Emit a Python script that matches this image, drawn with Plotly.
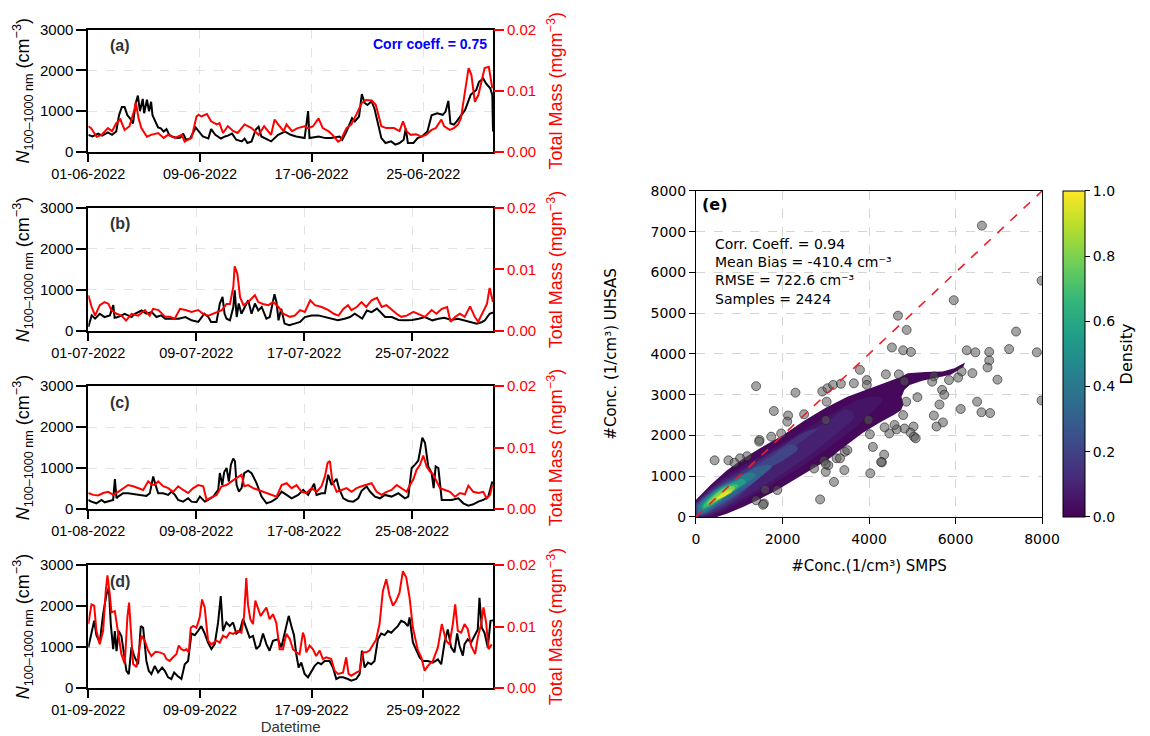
import pandas as pd
import plotly.graph_objects as go
from plotly.colors import sample_colorscale

# ---------------- time series: day offset from month start, value ----------------
# N(100-1000 nm) in cm^-3, total mass in mg m^-3
jun_n_day = [0.0, 0.3, 0.7, 1.0, 1.4, 1.7, 2.0, 2.2, 2.4, 2.6, 2.8, 3.0, 3.2, 3.4, 3.55, 3.7, 3.9, 4.0, 4.2, 4.35,
             4.5, 4.6, 4.8, 5.0, 5.2, 5.4, 5.6, 5.8, 6.0, 6.4, 6.6, 6.8, 7.0, 7.3, 7.7, 7.9, 8.2, 8.6, 8.8, 9.1,
             9.5, 9.8, 10.0, 10.3, 10.6, 11.0, 11.2, 11.4, 11.7, 12.0, 12.2, 12.4, 12.8, 13.1, 13.6, 14.1, 14.5, 14.9, 15.5, 15.75,
             15.85, 16.5, 17.0, 17.4, 18.0, 18.2, 18.5, 18.9, 19.1, 19.4, 19.6, 19.8, 20.0, 20.3, 20.5, 20.8, 21.0, 21.3, 21.7, 22.0,
             22.3, 22.6, 22.75, 22.9, 23.3, 23.6, 23.9, 24.3, 24.6, 25.0, 25.4, 25.6, 25.8, 25.95, 26.2, 26.4, 26.8, 27.0, 27.4, 27.8,
             28.0, 28.3, 28.5, 28.8, 28.95, 29.0]
jun_n = [420, 380, 450, 400, 480, 420, 500, 900, 1100, 1100, 900, 820, 700, 1200, 1380, 1000, 1300, 950, 1280, 1000,
         1230, 900, 750, 600, 580, 500, 560, 420, 380, 340, 350, 450, 300, 330, 600, 520, 380, 330, 560, 420,
         330, 380, 400, 450, 300, 260, 330, 220, 260, 550, 620, 380, 300, 260, 420, 500, 420, 380, 340, 1000,
         340, 380, 340, 340, 380, 300, 500, 830, 750, 870, 1420, 1200, 1150, 1240, 1070, 670, 340, 220, 260, 180,
         220, 300, 580, 220, 220, 340, 380, 500, 900, 950, 910, 990, 1250, 700, 670, 750, 950, 1030, 1400, 1520,
         1720, 1800, 1680, 1560, 1400, 500]
jun_m_day = [0.0, 0.2, 0.6, 0.95, 1.4, 1.7, 2.0, 2.3, 2.6, 2.95, 3.3, 3.4, 3.6, 3.8, 4.2, 4.5, 5.0, 5.4, 5.7, 6.2,
             6.7, 6.9, 7.4, 7.75, 7.9, 8.1, 8.5, 8.8, 9.2, 9.4, 9.65, 10.0, 10.4, 10.7, 11.2, 11.7, 12.2, 12.6, 13.1, 13.35,
             13.6, 14.0, 14.2, 14.6, 15.0, 15.5, 15.75, 16.1, 16.5, 16.8, 17.2, 17.5, 17.9, 18.1, 18.5, 18.85, 19.2, 19.6, 19.9, 20.3,
             20.6, 21.0, 21.35, 21.9, 22.3, 22.55, 22.8, 23.1, 23.5, 23.85, 24.2, 24.6, 24.9, 25.3, 25.5, 25.9, 26.2, 26.5, 26.7, 26.95,
             27.25, 27.45, 27.7, 27.95, 28.2, 28.4, 28.7, 28.95]
jun_m = [.0042, .0039, .0025, .0028, .0039, .0034, .0047, .0053, .0036, .0042, .0069, .0081, .0055, .0039, .0025, .0028, .0031, .0023, .0028, .0023,
         .0028, .0017, .0023, .0058, .0061, .0058, .0062, .0050, .0045, .0047, .0031, .0042, .0034, .0031, .0045, .0039, .0028, .0042, .0028, .0053,
         .0045, .0034, .0045, .0034, .0039, .0042, .0039, .0042, .0055, .0039, .0034, .0028, .0017, .0020, .0039, .0045, .0061, .0080, .0085, .0084,
         .0077, .0042, .0039, .0039, .0034, .0050, .0034, .0028, .0029, .0025, .0028, .0036, .0039, .0053, .0042, .0036, .0039, .0045, .0055, .0093,
         .0137, .0126, .0082, .0093, .0115, .0137, .0139, .0104]

jul_n_day = [0.0, 0.25, 0.5, 0.85, 1.2, 1.6, 1.85, 1.95, 2.2, 2.7, 3.2, 3.45, 3.95, 4.3, 4.7, 5.05, 5.4, 5.7, 6.2, 6.7,
             7.2, 7.65, 8.15, 8.6, 8.9, 9.1, 9.5, 9.75, 9.95, 10.1, 10.25, 10.5, 10.75, 10.85, 11.0, 11.15, 11.35, 11.6, 11.85, 12.1,
             12.35, 12.6, 12.85, 13.2, 13.45, 13.8, 13.95, 14.1, 14.3, 14.55, 14.9, 15.3, 15.7, 16.05, 16.55, 17.05, 17.55, 18.05, 18.5, 19.0,
             19.4, 19.75, 20.3, 20.65, 21.0, 21.4, 21.75, 22.0, 22.5, 23.0, 23.5, 24.0, 24.5, 24.95, 25.5, 25.95, 26.4, 26.9, 27.4, 27.9,
             28.3, 28.8, 29.2, 29.4, 29.75, 30.0]
jul_n = [100, 380, 300, 420, 340, 380, 630, 320, 340, 420, 340, 420, 500, 420, 460, 340, 380, 300, 300, 300,
         340, 260, 220, 420, 340, 220, 220, 670, 830, 420, 300, 260, 585, 990, 340, 670, 420, 585, 750, 420,
         670, 500, 585, 300, 340, 895, 700, 260, 545, 180, 140, 180, 220, 340, 380, 380, 340, 300, 260, 300,
         340, 420, 300, 500, 460, 545, 420, 340, 340, 270, 260, 270, 300, 340, 260, 300, 320, 270, 300, 260,
         220, 180, 220, 260, 420, 450]
jul_m_day = [0.0, 0.25, 0.5, 0.85, 1.2, 1.5, 1.7, 2.1, 2.45, 2.8, 3.2, 3.7, 4.2, 4.55, 4.8, 5.2, 5.7, 6.05, 6.4, 6.8,
             7.2, 7.65, 8.15, 8.5, 8.9, 9.25, 9.5, 9.9, 10.25, 10.5, 10.75, 10.85, 11.05, 11.25, 11.5, 11.85, 12.35, 12.6, 12.95, 13.35,
             13.7, 14.1, 14.45, 14.95, 15.3, 15.7, 16.05, 16.45, 16.8, 17.3, 17.8, 18.2, 18.55, 18.9, 19.25, 19.5, 19.9, 20.25, 20.6, 21.0,
             21.4, 21.75, 22.1, 22.5, 22.85, 23.2, 23.6, 24.1, 24.45, 24.95, 25.45, 25.8, 26.2, 26.6, 26.85, 27.2, 27.55, 27.9, 28.3, 28.65,
             28.9, 29.3, 29.55, 29.75, 30.0]
jul_m = [.0058, .0039, .0025, .0042, .0047, .0044, .0034, .0028, .0025, .0017, .0028, .0025, .0034, .0025, .0036, .0034, .0023, .0023, .0020, .0036,
         .0034, .0031, .0034, .0028, .0025, .0028, .0031, .0034, .0044, .0044, .0072, .0105, .0093, .0055, .0042, .0047, .0058, .0047, .0044, .0042,
         .0047, .0039, .0028, .0023, .0025, .0034, .0031, .0050, .0042, .0039, .0034, .0028, .0025, .0036, .0042, .0034, .0039, .0047, .0039, .0050,
         .0054, .0039, .0042, .0034, .0028, .0023, .0025, .0031, .0028, .0023, .0034, .0028, .0036, .0039, .0015, .0023, .0028, .0023, .0040, .0023,
         .0015, .0034, .0044, .0070, .0047]

aug_n_day = [0.0, 0.23, 0.6, 0.98, 1.22, 1.6, 1.84, 1.97, 2.09, 2.21, 2.58, 2.95, 3.45, 3.94, 4.31, 4.56, 4.81, 4.98, 5.18, 5.55,
             5.92, 6.17, 6.42, 6.66, 7.03, 7.4, 7.65, 8.02, 8.27, 8.64, 8.89, 9.26, 9.63, 9.75, 9.93, 10.07, 10.25, 10.42, 10.57, 10.74,
             10.87, 10.99, 11.16, 11.36, 11.56, 11.85, 12.1, 12.47, 12.84, 13.21, 13.58, 13.96, 14.33, 14.7, 15.07, 15.56, 15.93, 16.3, 16.74, 16.92,
             17.29, 17.54, 17.78, 18.03, 18.4, 18.58, 18.9, 19.27, 19.64, 20.01, 20.26, 20.63, 20.88, 21.25, 21.62, 21.99, 22.48, 22.98, 23.47, 23.72,
             23.97, 24.22, 24.46, 24.59, 24.76, 24.96, 25.2, 25.45, 25.6, 25.75, 25.95, 26.2, 26.56, 26.93, 27.43, 27.8, 28.17, 28.54, 28.91, 29.28,
             29.65, 29.95]
aug_n = [221, 180, 139, 221, 164, 197, 221, 730, 262, 303, 385, 385, 361, 344, 320, 385, 795, 590, 385, 385,
         344, 426, 344, 221, 180, 262, 180, 164, 303, 180, 221, 303, 467, 877, 590, 894, 1000, 672, 1082, 1230,
         1164, 590, 426, 508, 877, 935, 877, 631, 303, 139, 180, 262, 426, 344, 262, 344, 467, 344, 615, 344,
         385, 385, 836, 590, 738, 508, 262, 197, 180, 262, 443, 549, 426, 303, 262, 344, 303, 385, 262, 303,
         1000, 1082, 1181, 1410, 1738, 1615, 1041, 877, 508, 1041, 1000, 221, 221, 221, 262, 139, 82, 115, 180, 221,
         303, 672]
aug_m_day = [0.0, 0.36, 0.73, 1.1, 1.47, 1.84, 2.21, 2.58, 2.95, 3.33, 3.7, 4.07, 4.44, 4.68, 4.93, 5.18, 5.55, 5.92, 6.29, 6.66,
             7.03, 7.4, 7.78, 8.15, 8.52, 8.76, 9.13, 9.51, 9.88, 10.25, 10.62, 10.99, 11.36, 11.56, 11.85, 12.22, 12.6, 13.09, 13.58, 13.96,
             14.33, 14.7, 15.07, 15.44, 15.81, 16.18, 16.55, 16.92, 17.29, 17.54, 17.74, 17.91, 18.09, 18.41, 18.78, 19.15, 19.52, 19.89, 20.26, 20.63,
             21.0, 21.37, 21.74, 22.11, 22.48, 22.86, 23.23, 23.6, 23.84, 24.09, 24.34, 24.59, 24.83, 25.08, 25.33, 25.57, 25.82, 26.07, 26.44, 26.81,
             27.18, 27.55, 27.92, 28.17, 28.54, 28.91, 29.28, 29.53, 29.78, 29.95]
aug_m = [.0026, .0023, .0022, .0026, .0028, .0023, .0028, .0034, .0039, .0037, .0034, .0031, .0045, .0040, .0039, .0045, .0037, .0034, .0028, .0037,
         .0031, .0026, .0034, .0039, .0037, .0015, .0019, .0023, .0037, .0039, .0045, .0050, .0056, .0037, .0039, .0034, .0031, .0028, .0023, .0020,
         .0039, .0042, .0034, .0039, .0028, .0026, .0034, .0028, .0037, .0053, .0075, .0078, .0045, .0028, .0031, .0034, .0028, .0034, .0037, .0039,
         .0042, .0028, .0023, .0028, .0031, .0039, .0034, .0028, .0039, .0048, .0064, .0072, .0087, .0069, .0061, .0056, .0045, .0034, .0031, .0028,
         .0020, .0026, .0024, .0038, .0028, .0026, .0028, .0017, .0023, .0039]

sep_n_day = [0.0, 0.23, 0.42, 0.58, 0.82, 1.06, 1.3, 1.47, 1.61, 1.78, 1.9, 2.02, 2.18, 2.37, 2.57, 2.73, 2.9, 3.09, 3.33, 3.57,
             3.76, 3.93, 4.16, 4.33, 4.52, 4.76, 5.0, 5.29, 5.48, 5.72, 5.95, 6.15, 6.38, 6.67, 6.91, 7.15, 7.39, 7.63, 7.86, 8.1,
             8.34, 8.58, 8.82, 9.06, 9.3, 9.49, 9.65, 9.89, 10.13, 10.37, 10.61, 10.85, 11.09, 11.32, 11.56, 11.8, 12.04, 12.28, 12.52, 12.76,
             12.99, 13.23, 13.59, 13.83, 14.07, 14.36, 14.55, 14.74, 14.9, 15.07, 15.26, 15.5, 15.74, 15.98, 16.22, 16.46, 16.69, 16.93, 17.29, 17.53,
             17.77, 18.0, 18.25, 18.6, 18.84, 19.2, 19.44, 19.61, 19.8, 20.04, 20.27, 20.51, 20.75, 20.99, 21.23, 21.47, 21.71, 21.94, 22.18, 22.42,
             22.66, 22.9, 23.02, 23.26, 23.5, 23.74, 23.98, 24.33, 24.69, 25.05, 25.29, 25.53, 25.76, 26.0, 26.24, 26.43, 26.6, 26.84, 26.96, 27.19,
             27.43, 27.67, 27.91, 28.03, 28.2, 28.39, 28.63, 28.82, 29.0]
sep_n = [990, 1390, 1640, 1290, 1110, 1800, 2280, 2450, 1560, 950, 1390, 900, 1390, 1270, 830, 420, 340, 990, 745, 580,
         1510, 1470, 660, 420, 340, 540, 380, 500, 420, 260, 220, 380, 300, 220, 580, 660, 1330, 1290, 1390, 1510,
         1330, 1110, 950, 1070, 1600, 2240, 1390, 1600, 1510, 1600, 1330, 1390, 1680, 1430, 1230, 1270, 950, 1030, 1330, 1070,
         910, 1150, 1190, 990, 1330, 1760, 1510, 1290, 830, 500, 620, 340, 260, 420, 540, 620, 580, 660, 660, 500,
         220, 260, 260, 220, 180, 220, 340, 910, 500, 620, 580, 660, 1190, 1330, 1290, 1390, 1350, 1430, 1510, 1640,
         1600, 1510, 1720, 1110, 910, 745, 660, 660, 620, 700, 580, 1110, 1430, 990, 870, 1330, 1030, 790, 1070, 1190,
         1110, 1270, 1430, 2200, 1470, 1350, 990, 1640, 1650]
sep_m_day = [0.0, 0.23, 0.42, 0.58, 0.82, 1.06, 1.25, 1.37, 1.54, 1.66, 1.9, 2.14, 2.37, 2.61, 2.8, 2.92, 3.04, 3.21, 3.45, 3.62,
             3.81, 4.05, 4.28, 4.52, 4.81, 5.12, 5.43, 5.6, 5.83, 6.07, 6.31, 6.48, 6.67, 6.86, 7.03, 7.2, 7.34, 7.51, 7.75, 7.98,
             8.15, 8.34, 8.58, 8.82, 9.18, 9.42, 9.65, 9.89, 10.13, 10.37, 10.73, 10.97, 11.16, 11.32, 11.44, 11.61, 11.8, 11.97, 12.16, 12.35,
             12.52, 12.76, 12.99, 13.23, 13.47, 13.71, 13.95, 14.19, 14.43, 14.67, 14.9, 15.14, 15.38, 15.5, 15.62, 15.86, 16.1, 16.33, 16.58, 16.81,
             17.05, 17.41, 17.65, 17.89, 18.25, 18.48, 18.65, 18.84, 19.2, 19.44, 19.68, 19.92, 20.15, 20.39, 20.63, 20.87, 21.11, 21.35, 21.59, 21.83,
             22.06, 22.3, 22.54, 22.78, 23.02, 23.26, 23.62, 23.86, 24.1, 24.33, 24.69, 25.05, 25.33, 25.64, 25.88, 26.12, 26.29, 26.48, 26.72, 26.96,
             27.19, 27.43, 27.72, 27.91, 28.15, 28.32, 28.51, 28.68, 28.91]
sep_m = [.0104, .0136, .0134, .0093, .0071, .0093, .0158, .0183, .0152, .0123, .0125, .0085, .0055, .0039, .0115, .0139, .0093, .0039, .0034, .0061,
         .0085, .0077, .0061, .0052, .0059, .0058, .0055, .0047, .0044, .0050, .0055, .0069, .0063, .0061, .0063, .0058, .0098, .0101, .0098, .0115,
         .0144, .0131, .0077, .0071, .0077, .0074, .0085, .0082, .0090, .0088, .0093, .0090, .0117, .0179, .0136, .0112, .0104, .0142, .0131, .0117,
         .0123, .0131, .0112, .0120, .0106, .0063, .0063, .0088, .0080, .0063, .0058, .0055, .0090, .0082, .0058, .0069, .0063, .0052, .0061, .0047,
         .0050, .0047, .0028, .0023, .0025, .0050, .0023, .0020, .0025, .0028, .0058, .0058, .0061, .0071, .0079, .0104, .0158, .0177, .0150, .0134,
         .0142, .0155, .0190, .0180, .0147, .0098, .0061, .0050, .0028, .0036, .0044, .0066, .0104, .0077, .0071, .0104, .0136, .0093, .0090, .0104,
         .0096, .0069, .0055, .0082, .0104, .0131, .0106, .0063, .0071]

month_starts = ["2022-06-01", "2022-07-01", "2022-08-01", "2022-09-01"]
month_ends = ["2022-06-30", "2022-07-31", "2022-08-31", "2022-09-30"]
panel_tags = ["(a)", "(b)", "(c)", "(d)"]
corr_text = "Corr coeff. = 0.75"

# ---------------- SMPS vs UHSAS comparison ----------------
stats_lines = ["Corr. Coeff. = 0.94", "Mean Bias = -410.4 cm⁻³", "RMSE = 722.6 cm⁻³", "Samples = 2424"]

# low-density samples (grey markers)
sparse_smps = [6610, 7990, 5960, 4670, 4870, 7400, 4530, 4790, 4970, 6260, 6460, 7240, 7880, 6780, 6780, 6740, 6970, 6390,
               7990, 6500, 6600, 6800, 6120, 5850, 6140, 6060, 5500, 5460, 5690, 5740, 5120, 5630, 5500, 5710, 5560, 4860,
               4790, 4820, 5030, 4960, 5040, 5080, 4640, 4470, 4360, 4350, 4300, 4090, 4030, 4020, 3430, 3250, 3190, 3000,
               3060, 2870, 3000, 3020, 2920, 3040, 3170, 3350, 3650, 3790, 3950, 3950, 4390, 4690, 2300, 1390, 1800, 2130,
               2110, 2500, 1740, 1470, 1460, 1970, 1180, 1020, 750, 890, 430, 1880, 1570, 1390, 1550, 1600, 2960, 3000,
               3440, 3990, 3330, 3500, 4280, 2730, 4590, 4820]
sparse_uhsas = [7150, 5800, 5320, 4940, 4590, 4550, 4160, 4090, 4050, 4090, 4040, 4120, 4040, 4050, 3840, 3670, 3370, 3530,
                2860, 2830, 2570, 2550, 2650, 3360, 3570, 3420, 3450, 3320, 3120, 3000, 2940, 2760, 2490, 2320, 2220, 2830,
                2500, 2170, 2220, 2070, 1970, 1930, 2150, 2050, 2200, 1530, 1340, 1720, 1070, 2030, 1150, 1440, 860, 1110,
                1270, 430, 2380, 2830, 3080, 3160, 3240, 3270, 3280, 3610, 3360, 3240, 3500, 3500, 3050, 3210, 2600, 2490,
                2340, 2520, 1970, 1890, 1850, 2050, 1490, 1440, 1390, 1330, 1390, 660, 330, 410, 300, 670, 1380, 1300,
                1600, 2380, 1440, 1640, 1350, 1190, 2260, 3330]

# outline of the dense cloud, then nested density contours inside it
cloud_outer_x = [0, 330, 710, 1100, 1500, 2000, 2500, 3000, 3500, 4000, 4450, 4700, 4900, 5300, 5700, 5975, 6220,
                 6180, 5890, 5560, 5230, 4940, 4820, 4750, 4800, 4740, 4570, 4250, 3850, 3400, 3040, 2650, 2260, 1880,
                 1490, 1100, 710, 480, 0]
cloud_outer_y = [420, 780, 1140, 1440, 1700, 2000, 2360, 2680, 2950, 3150, 3330, 3420, 3530, 3560, 3570, 3650, 3790,
                 3680, 3490, 3420, 3340, 3240, 3120, 2950, 2770, 2620, 2500, 2320, 2060, 1700, 1400, 1150, 900, 660,
                 450, 250, 80, 0, 0]
cloud_levels = [0.055, 0.09, 0.14, 0.21, 0.30, 0.42, 0.55, 0.68, 0.80, 0.90, 0.97]
cloud_x = [
    [0, 500, 1000, 2000, 3000, 4000, 4300, 4000, 3000, 2000, 1000, 500, 150, 0],
    [0, 500, 1000, 2000, 3000, 3500, 3650, 3250, 2000, 1000, 500, 150, 0],
    [0, 500, 1000, 1800, 2600, 2800, 2500, 1800, 1000, 500, 150, 0],
    [0, 500, 1000, 1700, 2200, 2350, 2100, 1600, 1000, 500, 150, 0],
    [20, 500, 1000, 1500, 1750, 1550, 1000, 500, 150, 20],
    [60, 500, 900, 1250, 1380, 1180, 800, 450, 150, 50],
    [120, 500, 850, 1080, 1150, 980, 650, 350, 150],
    [180, 520, 860, 980, 860, 600, 320, 170],
    [250, 550, 850, 900, 780, 550, 300],
    [380, 600, 800, 840, 700, 500, 370],
    [480, 650, 770, 730, 560],
]
cloud_y = [
    [380, 870, 1200, 1820, 2450, 2950, 2900, 2500, 1650, 950, 350, 80, 0, 0],
    [350, 820, 1130, 1740, 2330, 2640, 2480, 2050, 1060, 420, 130, 10, 10],
    [340, 780, 1080, 1600, 2120, 2150, 1900, 1350, 500, 180, 30, 30],
    [320, 740, 1020, 1460, 1780, 1680, 1450, 1130, 560, 240, 50, 60],
    [300, 710, 980, 1250, 1250, 1030, 600, 270, 80, 100],
    [280, 690, 900, 1090, 1020, 840, 560, 300, 110, 140],
    [280, 660, 840, 930, 860, 710, 480, 270, 170],
    [300, 640, 800, 770, 650, 460, 280, 220],
    [330, 630, 760, 700, 600, 450, 290],
    [410, 590, 680, 630, 530, 420, 370],
    [460, 590, 630, 560, 460],
]

TS_FONT = "Liberation Sans, Arial, sans-serif"
SC_FONT = "DejaVu Sans, sans-serif"
GRID = "#e3e3e3"

series = [
    (jun_n_day, jun_n, jun_m_day, jun_m),
    (jul_n_day, jul_n, jul_m_day, jul_m),
    (aug_n_day, aug_n, aug_m_day, aug_m),
    (sep_n_day, sep_n, sep_m_day, sep_m),
]

# panel placement (paper fractions)
ts_x_dom = [0.0768, 0.4287]
ts_y_doms = [[0.7935, 0.9599], [0.5503, 0.7174], [0.3084, 0.4755], [0.0652, 0.2323]]
sc_x_dom = [0.6052, 0.9061]
sc_y_dom = [0.2976, 0.7405]


def to_time(start, days):
    return pd.Timestamp(start) + pd.to_timedelta(pd.Series(days), unit="D")


fig = go.Figure()
layout = dict(
    width=1150, height=736, margin=dict(l=0, r=0, t=0, b=0, autoexpand=False),
    paper_bgcolor="white", plot_bgcolor="white", showlegend=False,
    font=dict(family=TS_FONT, color="black"),
)
annotations = []

for i, (nd, nv, md, mv) in enumerate(series):
    k = i + 1
    xa = "x" if k == 1 else f"x{k}"
    yl = f"y{2 * i + 1}" if i > 0 else "y"
    yr = f"y{2 * i + 2}"
    start = month_starts[i]
    fig.add_trace(go.Scatter(x=to_time(start, nd), y=nv, mode="lines",
                             line=dict(color="black", width=2), xaxis=xa, yaxis=yl))
    fig.add_trace(go.Scatter(x=to_time(start, md), y=mv, mode="lines",
                             line=dict(color="red", width=2), xaxis=xa, yaxis=yr))

    ticks = list(to_time(start, [0, 8, 16, 24]))
    xkey = "xaxis" if k == 1 else f"xaxis{k}"
    ylkey = "yaxis" if i == 0 else f"yaxis{2 * i + 1}"
    yrkey = f"yaxis{2 * i + 2}"
    layout[xkey] = dict(
        domain=ts_x_dom, anchor=yl, type="date", automargin=False,
        range=[pd.Timestamp(start), pd.Timestamp(month_ends[i])],
        tickvals=ticks, tickformat="%d-%m-%Y",
        ticks="outside", ticklen=8, tickwidth=2, tickcolor="black",
        showline=True, linecolor="black", linewidth=1.8, mirror=True,
        showgrid=True, gridcolor=GRID, griddash="dash", gridwidth=0.8,
        zeroline=False, tickfont=dict(size=14.5, family=TS_FONT),
        title=dict(text="Datetime", font=dict(size=15, color="#333333"), standoff=3) if i == 3 else None,
    )
    layout[ylkey] = dict(
        domain=ts_y_doms[i], anchor=xa, range=[0, 3000], automargin=False,
        tickvals=[0, 1000, 2000, 3000],
        ticks="outside", ticklen=10, tickwidth=2, tickcolor="black",
        showline=True, linecolor="black", linewidth=1.8, mirror=True,
        showgrid=True, gridcolor=GRID, griddash="dash", gridwidth=0.8,
        zeroline=False, tickfont=dict(size=15, family=TS_FONT),
        title=dict(text="<i>N</i><sub>100–1000 nm</sub> (cm<sup>−3</sup>)",
                   font=dict(size=18, family=TS_FONT), standoff=6),
    )
    layout[yrkey] = dict(
        overlaying=yl, side="right", anchor=xa, range=[0, 0.02], automargin=False,
        tickvals=[0, 0.01, 0.02], ticktext=["0.00", "0.01", "0.02"],
        ticks="outside", ticklen=10, tickwidth=2.2, tickcolor="red",
        showline=False, showgrid=False, zeroline=False,
        tickfont=dict(size=15, color="red", family=TS_FONT),
        title=dict(text="Total Mass (mgm<sup>−3</sup>)",
                   font=dict(size=18, color="red", family=TS_FONT), standoff=14),
    )
    annotations.append(dict(
        text=f"<b>{panel_tags[i]}</b>", xref=f"{xa} domain", yref=f"{yl} domain",
        x=0.048, y=0.87, xanchor="left", yanchor="middle", showarrow=False,
        font=dict(size=16, color="#333333", family=TS_FONT)))
    if i == 0:
        annotations.append(dict(
            text=f"<b>{corr_text}</b>", xref=f"{xa} domain", yref=f"{yl} domain",
            x=0.99, y=0.88, xanchor="right", yanchor="middle", showarrow=False,
            font=dict(size=14, color="blue", family=TS_FONT)))

# ---- scatter comparison panel ----
SX, SY = "x5", "y9"
viridis_outer = sample_colorscale("Viridis", [0.02])[0]
fig.add_trace(go.Scatter(x=cloud_outer_x, y=cloud_outer_y, mode="lines", fill="toself",
                         fillcolor=viridis_outer, line=dict(width=0), xaxis=SX, yaxis=SY,
                         hoverinfo="skip"))
level_colors = sample_colorscale("Viridis", cloud_levels)
for cx, cy, col in zip(cloud_x, cloud_y, level_colors):
    fig.add_trace(go.Scatter(x=cx, y=cy, mode="lines", fill="toself", fillcolor=col,
                             line=dict(width=0, shape="spline", smoothing=1.3),
                             xaxis=SX, yaxis=SY, hoverinfo="skip"))
fig.add_trace(go.Scatter(x=sparse_smps, y=sparse_uhsas, mode="markers",
                         marker=dict(size=9, color="rgba(90,90,90,0.55)",
                                     line=dict(color="rgba(30,30,30,0.6)", width=1)),
                         xaxis=SX, yaxis=SY))
fig.add_trace(go.Scatter(x=[0, 8000], y=[0, 8000], mode="lines",
                         line=dict(color="#e8202a", width=1.6, dash="dash"),
                         xaxis=SX, yaxis=SY))
# colour scale for the density
fig.add_trace(go.Scatter(x=[None], y=[None], mode="markers", xaxis=SX, yaxis=SY,
                         marker=dict(color=[0, 1], cmin=0, cmax=1, colorscale="Viridis",
                                     showscale=True,
                                     colorbar=dict(
                                         x=0.9243, xanchor="left", xpad=0,
                                         y=sum(sc_y_dom) / 2, yanchor="middle", ypad=0,
                                         len=sc_y_dom[1] - sc_y_dom[0], lenmode="fraction",
                                         thickness=22, outlinewidth=1, outlinecolor="black",
                                         tickvals=[0, 0.2, 0.4, 0.6, 0.8, 1.0], tickformat=".1f",
                                         ticks="outside", ticklen=5, tickcolor="black",
                                         tickfont=dict(size=14, family=SC_FONT),
                                         title=dict(text="Density", side="right",
                                                    font=dict(size=16, family=SC_FONT))))))

layout["xaxis5"] = dict(
    domain=sc_x_dom, anchor="y9", range=[0, 8000], tickvals=[0, 2000, 4000, 6000, 8000],
    automargin=False, ticks="outside", ticklen=6, tickcolor="black", ticklabelstandoff=3,
    showline=True, linecolor="black", linewidth=1, mirror=True,
    showgrid=True, gridcolor="#d4d4d4", griddash="dash", zeroline=False,
    tickfont=dict(size=14, family=SC_FONT),
    title=dict(text="#Conc.(1/cm³) SMPS", font=dict(size=15, family=SC_FONT), standoff=14),
)
layout["yaxis9"] = dict(
    domain=sc_y_dom, anchor="x5", range=[0, 8000], tickvals=list(range(0, 8001, 1000)),
    automargin=False, ticks="outside", ticklen=6, tickcolor="black",
    showline=True, linecolor="black", linewidth=1, mirror=True,
    showgrid=True, gridcolor="#d4d4d4", griddash="dash", zeroline=False,
    tickfont=dict(size=14, family=SC_FONT),
    title=dict(text="#Conc. (1/cm³) UHSAS", font=dict(size=15, family=SC_FONT), standoff=30),
)
annotations.append(dict(text="<b>(e)</b>", xref="x5", yref="y9", x=100, y=7680,
                        xanchor="left", yanchor="middle", showarrow=False,
                        font=dict(size=16, family=SC_FONT)))
annotations.append(dict(text="<br>".join(stats_lines), xref="x5", yref="y9", x=390, y=6950,
                        xanchor="left", yanchor="top", align="left", showarrow=False,
                        font=dict(size=14, family=SC_FONT)))

layout["annotations"] = annotations
fig.update_layout(**layout)
fig.write_html("out.html")
